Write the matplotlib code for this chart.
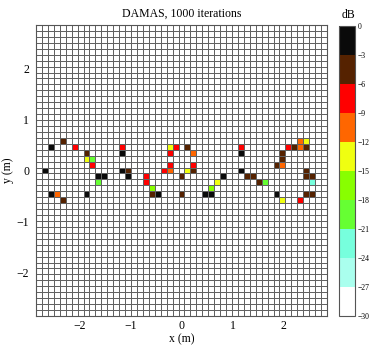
import numpy as np
import matplotlib
matplotlib.use('Agg')
import matplotlib.pyplot as plt
from matplotlib.colors import ListedColormap, BoundaryNorm

plt.rcParams['font.family'] = ['Liberation Serif', 'DejaVu Serif']
plt.rcParams['axes.unicode_minus'] = True

# scan grid: 49 x 49 points from -2.8 m to 2.8 m
grid = np.linspace(-2.8, 2.8, 49)
floor_db = -30

# colour classes (dB, 3 dB steps) from the colour bar
levels = [-30, -27, -24, -21, -18, -15, -12, -9, -6, -3, 0]
level_colors = ['#ffffff', '#aaffee', '#77ffdd', '#66ff33', '#88ff00',
                '#f0ff10', '#ff6600', '#ff0000', '#552200', '#0a0a0a']

# non-empty cells: column / row offset from the grid centre and level (dB)
src_col = [-20, 20, 21,
           -22, -18, -10, -2, -1, 1, 10, 18, 19, 20, 21,
           -16, -10, -2, 2, 10, 17,
           -16, -15, 17,
           -15, -2, 2, 16, 17,
           -23, -10, -9, -3, -2, 1, 2, 10, 21,
           -14, -13, -9, -6, 0, 7, 11, 12, 21, 22,
           -14, -6, 6, 13, 14, 22,
           -5, 5,
           -22, -21, -16, -5, -4, 0, 4, 5, 16, 21, 22,
           -20, 17, 20]
src_row = [5, 5, 5,
           4, 4, 4, 4, 4, 4, 4, 4, 4, 4, 4,
           3, 3, 3, 3, 3, 3,
           2, 2, 2,
           1, 1, 1, 1, 1,
           0, 0, 0, 0, 0, 0, 0, 0, 0,
           -1, -1, -1, -1, -1, -1, -1, -1, -1, -1,
           -2, -2, -2, -2, -2, -2,
           -3, -3,
           -4, -4, -4, -4, -4, -4, -4, -4, -4, -4, -4,
           -5, -5, -5]
src_db = [-4.5, -10.5, -13.5,
          -1.5, -7.5, -7.5, -13.5, -7.5, -4.5, -7.5, -7.5, -4.5, -10.5, -4.5,
          -4.5, -1.5, -7.5, -10.5, -1.5, -4.5,
          -13.5, -19.5, -4.5,
          -7.5, -7.5, -7.5, -4.5, -10.5,
          -1.5, -1.5, -4.5, -7.5, -10.5, -13.5, -4.5, -1.5, -4.5,
          -1.5, -1.5, -1.5, -7.5, -4.5, -1.5, -4.5, -4.5, -4.5, -4.5,
          -19.5, -7.5, -13.5, -4.5, -19.5, -22.5,
          -16.5, -16.5,
          -1.5, -10.5, -1.5, -4.5, -1.5, -4.5, -1.5, -1.5, -1.5, -4.5, -4.5,
          -4.5, -13.5, -7.5]

# build the map
mid = len(grid) // 2
B = np.full((len(grid), len(grid)), floor_db - 1.0)
for c, r, v in zip(src_col, src_row, src_db):
    B[mid + r, mid + c] = v

step = grid[1] - grid[0]
edges = np.concatenate([grid - step / 2, [grid[-1] + step / 2]])

cmap = ListedColormap(level_colors)
cmap.set_under(level_colors[0])
norm = BoundaryNorm(levels, cmap.N)

fig = plt.figure(figsize=(3.74, 3.47), dpi=100)
ax = fig.add_axes([36 / 374, 31 / 347, 291 / 374, 291 / 347])
mesh = ax.pcolormesh(edges, edges, B, cmap=cmap, norm=norm,
                     edgecolors='#626262', linewidth=0.55)
ax.set_xlim(edges[0], edges[-1])
ax.set_ylim(edges[0], edges[-1])
ax.set_xticks([-2, -1, 0, 1, 2])
ax.set_yticks([-2, -1, 0, 1, 2])
ax.tick_params(length=0, labelsize=8.5)
ax.tick_params(axis='x', pad=3)
ax.tick_params(axis='y', pad=5)
for s in ax.spines.values():
    s.set_color('#555555')
    s.set_linewidth(0.8)
ax.set_xlabel('x (m)', fontsize=8.5, labelpad=1)
ax.set_ylabel('y (m)', fontsize=8.5, labelpad=2)
ax.set_title('DAMAS, 1000 iterations', fontsize=8.5, pad=6)

cax = fig.add_axes([339 / 374, 31 / 347, 16 / 374, 290 / 347])
cb = fig.colorbar(mesh, cax=cax, ticks=levels, extend='neither')
cb.ax.tick_params(length=0, labelsize=5.5, pad=2)
cb.ax.set_yticklabels([f'{v}'.replace('-', '\u2212') for v in levels])
cb.outline.set_edgecolor('#555555')
cb.outline.set_linewidth(0.8)
fig.text(349 / 374, 1 - 15 / 347, 'dB', ha='center', va='center', fontsize=8.5)

fig.savefig('out.png', dpi=100)
